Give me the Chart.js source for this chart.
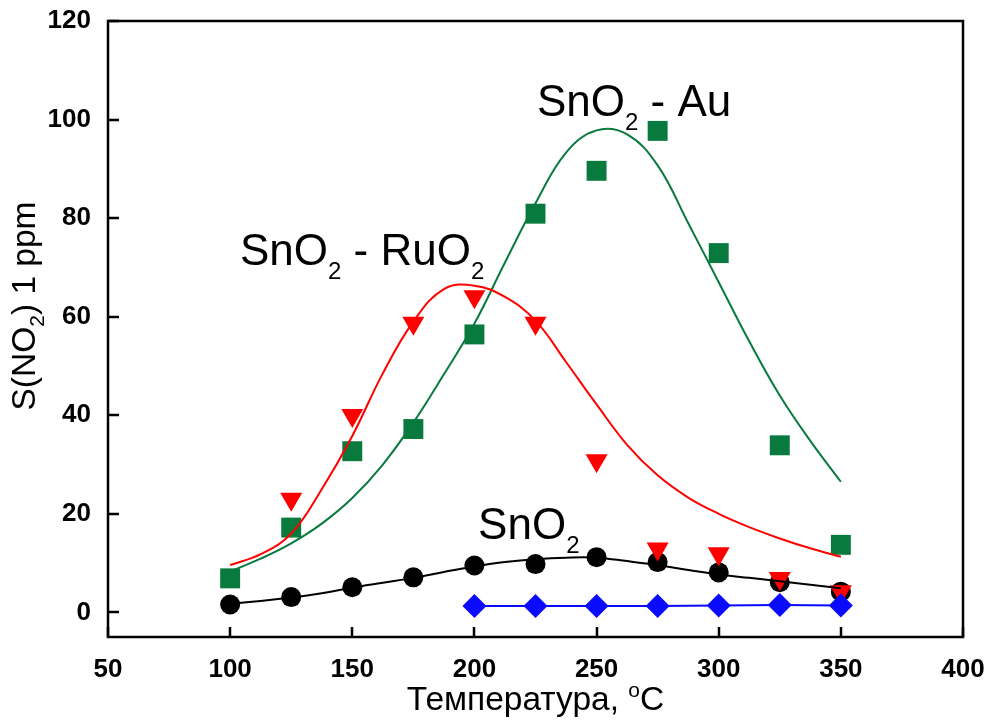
<!DOCTYPE html>
<html>
<head>
<meta charset="utf-8">
<script src="https://cdn.jsdelivr.net/npm/chart.js@4.4.1/dist/chart.umd.min.js"></script>
<style>
  html, body { margin: 0; padding: 0; background: #ffffff; }
  #wrap { width: 990px; height: 728px; }
</style>
</head>
<body>
<div id="wrap"><canvas id="c" width="990" height="728"></canvas></div>
<script>
// Measured response S(NO2) at 1 ppm vs. working temperature
const temps      = [100, 125, 150, 175, 200, 225, 250, 275, 300, 325, 350];
const sno2       = [1.6, 3.1, 5.1, 7.1, 9.5, 9.8, 11.2, 10.2, 8.1, 6.1, 4.2];
const ruo2Temps  = [125, 150, 175, 200, 225, 250, 275, 300, 325, 350];
const ruo2       = [23.0, 40.0, 58.7, 64.1, 58.7, 30.8, 12.9, 11.9, 6.9, 4.2];
const au         = [6.9, 17.2, 32.7, 37.2, 56.4, 80.9, 89.6, 97.7, 72.9, 33.9, 13.7];
const blankTemps = [200, 225, 250, 275, 300, 325, 350];
const blank      = [1.3, 1.3, 1.3, 1.3, 1.4, 1.5, 1.4];

// Fitted curves, sampled every 12.5 °C
const fitTemps = [100, 112.5, 125, 137.5, 150, 162.5, 175, 187.5, 200, 212.5, 225,
                  237.5, 250, 262.5, 275, 287.5, 300, 312.5, 325, 337.5, 350];
const sno2Fit  = [1.8, 2.3, 3.0, 3.9, 5.0, 6.0, 7.0, 8.2, 9.3, 10.2, 10.8,
                  11.1, 11.1, 10.4, 9.6, 8.6, 7.7, 7.0, 6.3, 5.6, 4.9];
const ruo2Fit  = [9.6, 11.8, 16.0, 25.0, 35.8, 48.5, 59.0, 65.6, 66.3, 64.0, 59.2,
                  50.8, 42.2, 34.0, 27.8, 23.3, 20.0, 17.3, 15.0, 13.0, 11.3];
const auFit    = [8.3, 10.9, 14.0, 18.0, 23.2, 30.0, 38.5, 48.3, 58.6, 71.0, 83.0,
                  93.3, 97.8, 97.0, 90.7, 79.0, 67.0, 55.0, 44.0, 34.8, 26.5];

const xTicks = [50, 100, 150, 200, 250, 300, 350, 400];
const yTicks = [0, 20, 40, 60, 80, 100, 120];

const GREEN = '#087a3e';
const RED   = '#ff0000';
const BLUE  = '#0a0aff';
const FONT  = '"Liberation Sans", Arial, Helvetica, sans-serif';

const pts = (xs, ys) => xs.map((x, i) => ({ x: x, y: ys[i] }));

// Text with sub/superscripts, drawn left to right from (x, y) on the baseline
function richWidth(ctx, parts, size, small) {
  let w = 0;
  for (const p of parts) {
    ctx.font = `${(p.sub || p.sup) ? small : size}px ${FONT}`;
    w += ctx.measureText(p.t).width;
  }
  return w;
}
function drawRich(ctx, parts, x, y, size, small, drop, rise) {
  let cx = x;
  for (const p of parts) {
    ctx.font = `${(p.sub || p.sup) ? small : size}px ${FONT}`;
    const dy = p.sub ? drop : (p.sup ? -rise : 0);
    ctx.fillText(p.t, cx, y + dy);
    cx += ctx.measureText(p.t).width;
  }
}

const notes = [
  { parts: [{ t: 'SnO' }, { t: '2', sub: true }, { t: ' - Au' }],   at: [225.6, 100.8] },
  { parts: [{ t: 'SnO' }, { t: '2', sub: true }, { t: ' - RuO' }, { t: '2', sub: true }], at: [104.0, 70.5] },
  { parts: [{ t: 'SnO' }, { t: '2', sub: true }], at: [201.5, 14.9] }
];

const framePlugin = {
  id: 'frame',
  afterDatasetsDraw(chart) {
    const { ctx, chartArea: a, scales: { x, y } } = chart;
    ctx.save();
    ctx.strokeStyle = '#000';
    ctx.lineWidth = 2.5;
    ctx.lineCap = 'butt';
    // inward ticks on left and bottom axes
    ctx.beginPath();
    for (const v of yTicks) {
      const py = Math.round(y.getPixelForValue(v));
      ctx.moveTo(a.left, py); ctx.lineTo(a.left + 11, py);
    }
    for (const v of xTicks) {
      const px = Math.round(x.getPixelForValue(v));
      ctx.moveTo(px, a.bottom); ctx.lineTo(px, a.bottom - 10);
    }
    ctx.stroke();
    // closed frame
    ctx.strokeRect(a.left, a.top, a.right - a.left, a.bottom - a.top);

    ctx.fillStyle = '#000';
    ctx.textBaseline = 'alphabetic';
    ctx.textAlign = 'left';

    // curve labels
    for (const n of notes) {
      const px = x.getPixelForValue(n.at[0]);
      const py = y.getPixelForValue(n.at[1]);
      drawRich(ctx, n.parts, px, py, 44, 24, 14, 0);
    }

    // x axis title
    const xt = [{ t: 'Температура, ' }, { t: 'o', sup: true }, { t: 'C' }];
    const xw = richWidth(ctx, xt, 33.5, 21);
    drawRich(ctx, xt, (a.left + a.right) / 2 - xw / 2, 710, 33.5, 21, 0, 13);

    // y axis title (rotated)
    const yt = [{ t: 'S(NO' }, { t: '2', sub: true }, { t: ') 1 ppm' }];
    const yw = richWidth(ctx, yt, 33.5, 21);
    ctx.translate(35, 306);
    ctx.rotate(-Math.PI / 2);
    drawRich(ctx, yt, -yw / 2, 0, 33.5, 21, 9, 0);
    ctx.restore();
  }
};

const tickFont = { family: FONT, size: 26, weight: 'bold' };

// fixed axis boxes, no label-overflow padding
function fitX(s) {
  s.height = 91;
  s.paddingLeft = 0; s.paddingRight = 0; s.paddingTop = 0; s.paddingBottom = 0;
}
function fitY(s) {
  s.width = 108;
  s.paddingLeft = 0; s.paddingRight = 0; s.paddingTop = 0; s.paddingBottom = 0;
}

const fitLine = (data, color) => ({
  data: data, showLine: true, tension: 0.4,
  borderColor: color, borderWidth: 2, pointRadius: 0, order: 1
});

new Chart(document.getElementById('c'), {
  type: 'scatter',
  data: {
    datasets: [
      { label: 'blank', data: pts(blankTemps, blank), showLine: true, tension: 0,
        borderColor: BLUE, borderWidth: 2, pointStyle: 'rectRot', pointRadius: 12,
        pointBackgroundColor: BLUE, pointBorderWidth: 0, order: 0 },
      Object.assign({ label: 'SnO2 fit' }, fitLine(pts(fitTemps, sno2Fit), '#000')),
      Object.assign({ label: 'SnO2-RuO2 fit' }, fitLine(pts(fitTemps, ruo2Fit), RED)),
      Object.assign({ label: 'SnO2-Au fit' }, fitLine(pts(fitTemps, auFit), GREEN)),
      { label: 'SnO2-Au', data: pts(temps, au), showLine: false,
        pointStyle: 'rect', pointRadius: 14.1, pointBackgroundColor: GREEN, pointBorderWidth: 0, order: 2 },
      { label: 'SnO2-RuO2', data: pts(ruo2Temps, ruo2), showLine: false,
        pointStyle: 'triangle', pointRotation: 180, pointRadius: 12.7,
        pointBackgroundColor: RED, pointBorderWidth: 0, order: 3 },
      { label: 'SnO2', data: pts(temps, sno2), showLine: false,
        pointStyle: 'circle', pointRadius: 10, pointBackgroundColor: '#000', pointBorderWidth: 0, order: 4 }
    ]
  },
  options: {
    responsive: false,
    animation: false,
    devicePixelRatio: 1,
    layout: { autoPadding: false, padding: { top: 21, right: 27, left: 0, bottom: 0 } },
    plugins: { legend: { display: false }, tooltip: { enabled: false } },
    scales: {
      x: {
        type: 'linear', min: 50, max: 400,
        afterBuildTicks: s => { s.ticks = xTicks.map(v => ({ value: v })); },
        afterFit: fitX,
        grid: { display: false, drawTicks: false },
        border: { display: false },
        ticks: { font: tickFont, color: '#000', padding: 17, maxRotation: 0, autoSkip: false }
      },
      y: {
        type: 'linear', min: -5, max: 120,
        afterBuildTicks: s => { s.ticks = yTicks.map(v => ({ value: v })); },
        afterFit: fitY,
        grid: { display: false, drawTicks: false },
        border: { display: false },
        ticks: { font: tickFont, color: '#000', padding: 17, autoSkip: false }
      }
    }
  },
  plugins: [framePlugin]
});
</script>
</body>
</html>
